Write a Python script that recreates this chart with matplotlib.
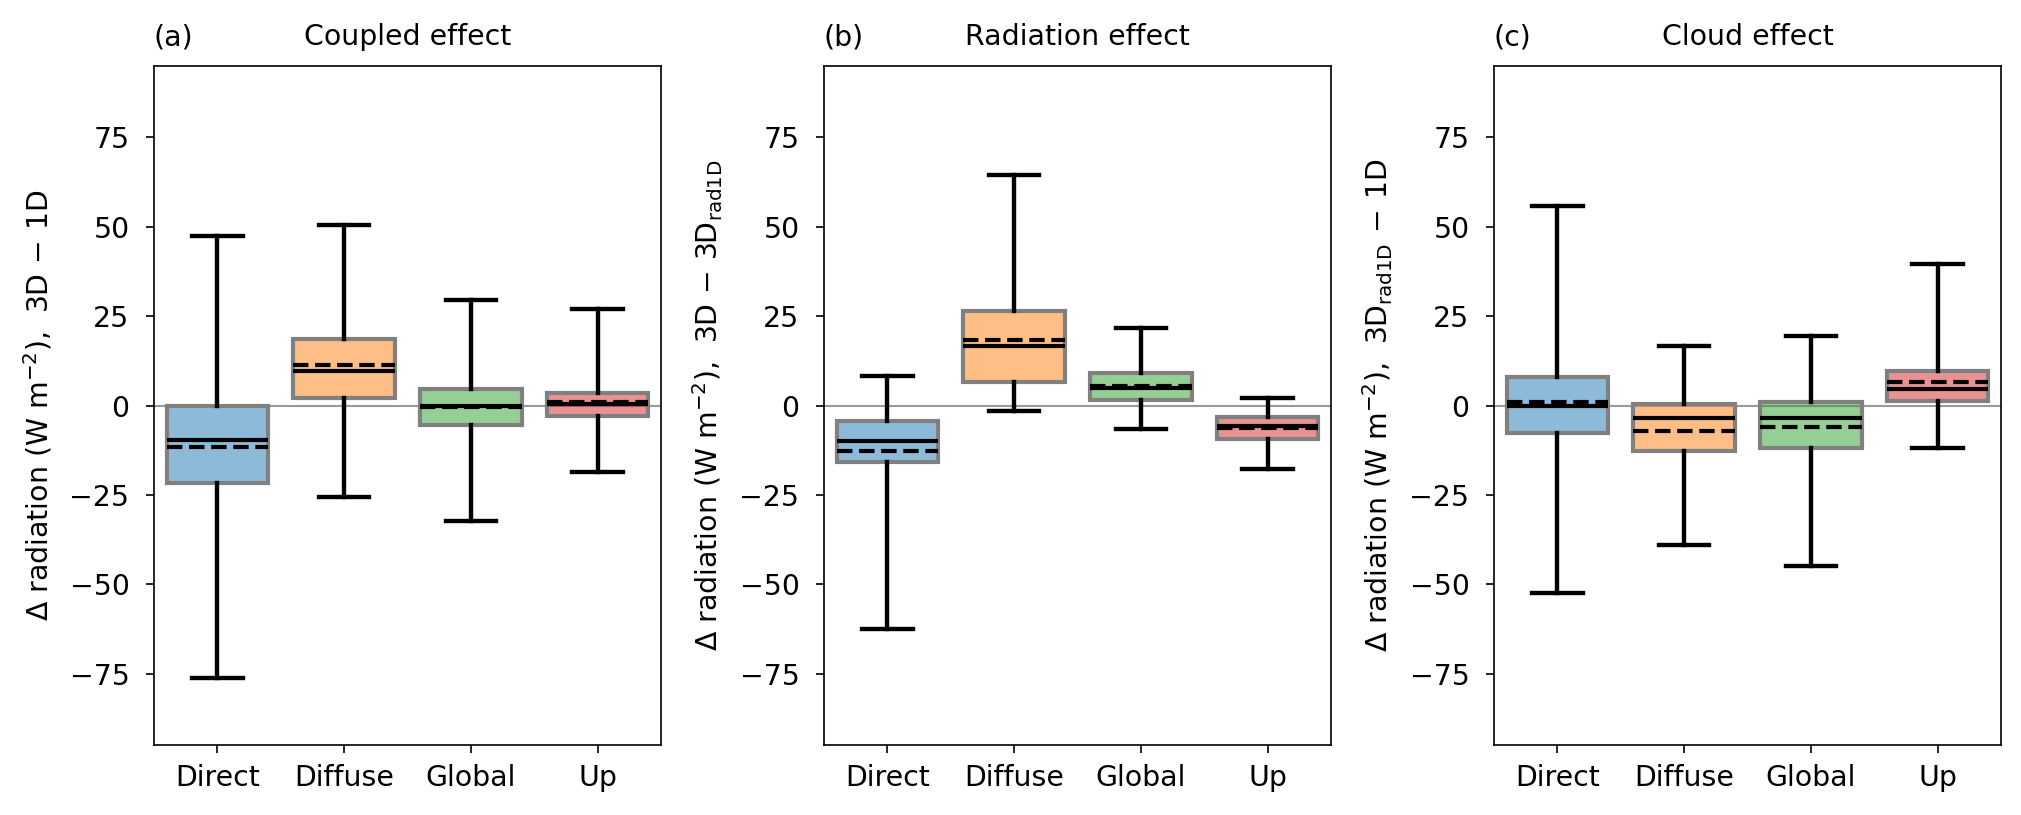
import matplotlib
matplotlib.use("Agg")
import matplotlib.pyplot as plt

categories = ['Direct', 'Diffuse', 'Global', 'Up']
colors = ['tab:blue', 'tab:orange', 'tab:green', 'tab:red']

panel_tags = ['(a)', '(b)', '(c)']
panel_titles = ['Coupled effect', 'Radiation effect', 'Cloud effect']
ylabels = [r'$\Delta$ radiation (W m$^{-2}$),  3D$\,-\,$1D',
           r'$\Delta$ radiation (W m$^{-2}$),  3D$\,-\,$3D$_{\rm rad1D}$',
           r'$\Delta$ radiation (W m$^{-2}$),  3D$_{\rm rad1D}$$\,-\,$1D']

# (a) coupled effect
whislo_a = [-76.2, -25.6, -32.4, -18.5]
q1_a = [-21.7, 2.2, -5.5, -3.0]
med_a = [-9.6, 9.6, -0.1, 0.3]
mean_a = [-11.5, 11.2, -0.4, 0.9]
q3_a = [0.0, 18.6, 4.5, 3.6]
whishi_a = [47.4, 50.4, 29.4, 27.0]

# (b) radiation effect
whislo_b = [-62.6, -1.5, -6.5, -17.7]
q1_b = [-15.8, 6.5, 1.5, -9.3]
med_b = [-9.9, 16.7, 4.8, -5.8]
mean_b = [-12.6, 18.2, 5.5, -6.4]
q3_b = [-4.2, 26.5, 9.0, -3.1]
whishi_b = [8.3, 64.4, 21.7, 2.2]

# (c) cloud effect
whislo_c = [-52.5, -39.0, -44.8, -11.9]
q1_c = [-7.8, -12.6, -11.8, 1.2]
med_c = [0.0, -3.6, -3.6, 4.5]
mean_c = [0.9, -7.1, -6.0, 6.7]
q3_c = [8.0, 0.4, 1.0, 9.6]
whishi_c = [55.8, 16.7, 19.5, 39.5]

panels = [
    (whislo_a, q1_a, med_a, mean_a, q3_a, whishi_a),
    (whislo_b, q1_b, med_b, mean_b, q3_b, whishi_b),
    (whislo_c, q1_c, med_c, mean_c, q3_c, whishi_c),
]

W, H = 2021, 815
fig = plt.figure(figsize=(W / 150, H / 150), dpi=150)
lefts = [154, 824, 1494]
fs = 13.6

for k, (lo, q1, med, mean, q3, hi) in enumerate(panels):
    ax = fig.add_axes([lefts[k] / W, 1 - 745 / H, 507 / W, (745 - 66) / H])
    stats = []
    for i in range(len(categories)):
        stats.append(dict(whislo=lo[i], q1=q1[i], med=med[i], mean=mean[i],
                          q3=q3[i], whishi=hi[i], fliers=[], label=categories[i]))
    ax.axhline(0, color='gray', lw=1.0, alpha=0.8, zorder=0)
    bp = ax.bxp(stats, widths=0.8, patch_artist=True, showmeans=True, meanline=True,
                showfliers=False,
                boxprops=dict(edgecolor='gray', linewidth=2.0),
                whiskerprops=dict(color='black', linewidth=2.1),
                capprops=dict(color='black', linewidth=2.1),
                medianprops=dict(color='black', linewidth=2.0),
                meanprops=dict(color='black', linewidth=2.0, linestyle='--'))
    for patch, c in zip(bp['boxes'], colors):
        patch.set_facecolor(matplotlib.colors.to_rgba(c, 0.5))
    ax.set_ylim(-95, 95)
    ax.set_yticks([-75, -50, -25, 0, 25, 50, 75])
    ax.tick_params(labelsize=fs, length=3.8)
    ax.tick_params(axis='y', pad=8)
    ax.tick_params(axis='x', pad=5.5)
    ax.set_ylabel(ylabels[k], fontsize=fs, labelpad=7)
    ax.set_title(panel_titles[k], fontsize=fs, pad=10)
    ax.set_title(panel_tags[k], loc='left', fontsize=fs, pad=10)

fig.savefig('out.png', dpi=150)
